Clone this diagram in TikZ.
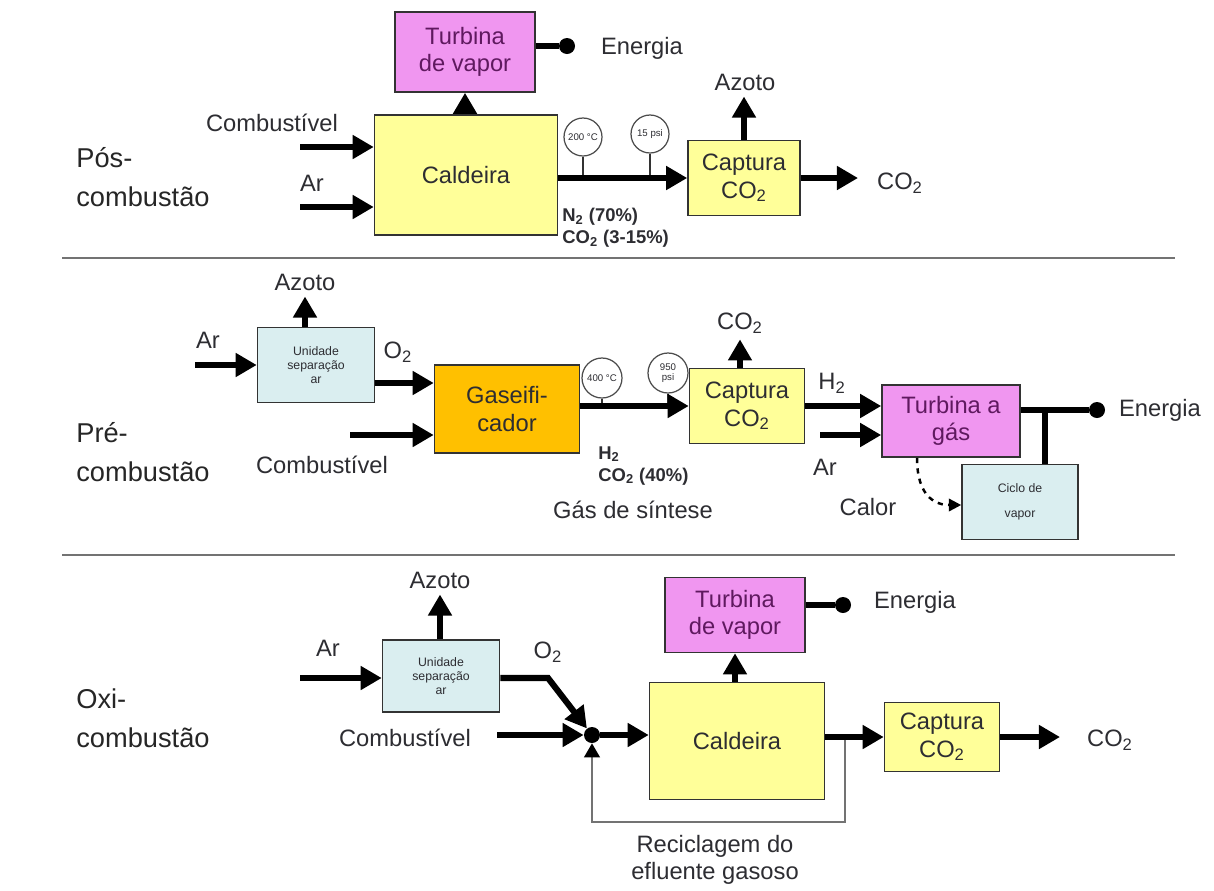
\documentclass[tikz,border=0pt]{standalone}
\usepackage{fontspec}
\setmainfont{Liberation Sans}
\usepackage{tikz}
\usetikzlibrary{arrows.meta, positioning}
\definecolor{turbpink}{RGB}{240,150,240}
\definecolor{capyellow}{RGB}{255,255,153}
\definecolor{sepblue}{RGB}{218,238,240}
\definecolor{gasorange}{RGB}{255,192,0}
\definecolor{txtgray}{RGB}{45,45,50}
\definecolor{turbtext}{RGB}{95,25,95}
\tikzset{
  box/.style={draw=black!80, line width=0.9pt, align=center, inner sep=1pt, text=txtgray,
    font=\fontsize{13.5}{15.5}\selectfont},
  smallbox/.style={box, font=\fontsize{7}{8}\selectfont},
  txt/.style={text=txtgray, font=\fontsize{13.5}{15.5}\selectfont},
  spec/.style={text=txtgray, align=left, anchor=north west, inner sep=0pt,
    font=\fontsize{10.5}{12.5}\selectfont\bfseries},
  biglbl/.style={text=black!85, align=left, anchor=west, inner sep=0pt,
    font=\fontsize{15.5}{22}\selectfont},
  gauge/.style={circle, draw=black!70, line width=0.7pt, fill=white, minimum size=0.76cm,
    inner sep=0pt, align=center, font=\fontsize{5.5}{6}\selectfont, text=txtgray},
  dot/.style={circle, fill=black, minimum size=0.32cm, inner sep=0pt},
  flow/.style={line width=3.5pt, -{Triangle[length=12pt,width=13pt]}},
  link/.style={line width=3.2pt},
  stem/.style={line width=1pt, draw=black!80},
  heat/.style={line width=1.4pt, dash pattern=on 3pt off 3pt, -{Triangle[length=7pt,width=7pt]}},
  recy/.style={line width=1.1pt, draw=black!55, -{Triangle[length=8pt,width=9pt,color=black]}},
  sepline/.style={line width=1pt, draw=black!55}
}
\begin{document}
\begin{tikzpicture}[x=0.02cm, y=-0.02cm]
  \useasboundingbox (0,0) rectangle (1214,890);
  \fill[white] (0,0) rectangle (1214,890);

  % pos-combustao
  \node[biglbl] (lblA) at (76,177) {Pós-\\combustão};
  \node[box, fill=turbpink, text=turbtext, minimum width=2.8cm, minimum height=1.6cm] (turbA) at (465,52) {Turbina\\de vapor};
  \node[box, fill=capyellow, minimum width=3.66cm, minimum height=2.4cm] (caldA) at (466,175) {Caldeira};
  \node[box, fill=capyellow, minimum width=2.24cm, minimum height=1.5cm] (captA) at (744,178) {Captura\\CO\textsubscript{2}};
  \node[dot] (dotA) at (567,46) {};
  \node[txt] (enA) at (642,48) {Energia};
  \node[txt] (combA) at (272,123) {Combustível};
  \node[txt] (arA) at (312,183) {Ar};
  \node[txt] (azA) at (745,82) {Azoto};
  \node[txt] (co2A) at (900,183) {CO\textsubscript{2}};
  \coordinate (inA1) at (300,147);
  \coordinate (inA2) at (300,207);
  \coordinate (outA) at (858,178);
  \draw[link] (turbA.east |- dotA) -- (dotA);
  \draw[flow] (turbA.south |- caldA.north) -- (turbA.south);
  \draw[flow] (inA1) -- (inA1 -| caldA.west);
  \draw[flow] (inA2) -- (inA2 -| caldA.west);
  \node[gauge] (gA1) at (583,137) {200 °C};
  \node[gauge] (gA2) at (650,134) {15 psi};
  \draw[stem] (gA1.south) -- (gA1.south |- captA.west);
  \draw[stem] (gA2.south) -- (gA2.south |- captA.west);
  \draw[flow] (captA.west -| caldA.east) -- (captA.west);
  \draw[flow] (captA.north) -- (captA.north |- azA.south);
  \draw[flow] (captA.east) -- (outA);
  \node[spec] (spA) at (562,208) {N\textsubscript{2} (70\%)\\CO\textsubscript{2} (3-15\%)};

  \draw[sepline] (62,258) -- (1175,258);

  % pre-combustao
  \node[biglbl] (lblB) at (76,452) {Pré-\\combustão};
  \node[smallbox, fill=sepblue, minimum width=2.34cm, minimum height=1.5cm] (usepB) at (316,365) {Unidade\\separação\\ar};
  \node[txt] (azB) at (305,282) {Azoto};
  \node[txt] (arB) at (208,340) {Ar};
  \node[txt] (o2B) at (398,352) {O\textsubscript{2}};
  \node[txt] (combB) at (322,465) {Combustível};
  \coordinate (inB1) at (195,365);
  \coordinate (inB2) at (350,435);
  \draw[flow] (azB |- usepB.north) -- (azB);
  \draw[flow] (inB1) -- (inB1 -| usepB.west);
  \node[box, fill=gasorange, minimum width=2.9cm, minimum height=1.76cm] (gasB) at (507,409) {Gaseifi-\\cador};
  \draw[flow] ([yshift=-0.36cm]usepB.east) -- ([yshift=-0.36cm]usepB.east -| gasB.west);
  \draw[flow] (inB2) -- (inB2 -| gasB.west);
  \node[box, fill=capyellow, minimum width=2.3cm, minimum height=1.5cm] (captB) at (747,406) {Captura\\CO\textsubscript{2}};
  \node[gauge, minimum size=0.8cm] (gB1) at (602,378) {400 °C};
  \node[gauge, minimum size=0.8cm] (gB2) at (668,373) {950\\psi};
  \draw[stem] (gB1.south) -- (gB1.south |- captB.west);
  \draw[stem] (gB2.south) -- (gB2.south |- captB.west);
  \draw[flow] (captB.west -| gasB.east) -- (captB.west);
  \node[spec] (spB) at (598,446) {H\textsubscript{2}\\CO\textsubscript{2} (40\%)};
  \node[txt] (sinB) at (633,510) {Gás de síntese};
  \node[txt] (co2B) at (740,323) {CO\textsubscript{2}};
  \draw[flow] (co2B |- captB.north) -- (co2B);
  \node[txt] (h2B) at (832,383) {H\textsubscript{2}};
  \node[box, fill=turbpink, text=turbtext, minimum width=2.76cm, minimum height=1.44cm] (turbB) at (951,421) {Turbina a\\gás};
  \coordinate (inB3) at (820,435);
  \draw[flow] (captB.east) -- (captB.east -| turbB.west);
  \draw[flow] (inB3) -- (inB3 -| turbB.west);
  \node[txt] (arB2) at (825,467) {Ar};
  \node[dot] (dotB) at (1097,410) {};
  \node[txt] (enB) at (1160,410) {Energia};
  \draw[link] (turbB.east |- dotB) -- (dotB);
  \node[smallbox, fill=sepblue, minimum width=2.32cm, minimum height=1.5cm] (cicB) at (1020,502) {Ciclo de\\[6pt]vapor};
  \coordinate (jB) at (1045,410);
  \draw[link] (jB) -- (jB |- cicB.north);
  \node[txt] (calB) at (868,507) {Calor};
  \draw[heat] ([xshift=-0.68cm]turbB.south) .. controls +(0,40) and +(-25,0) .. ([yshift=-0.06cm]cicB.west);

  \draw[sepline] (62,555) -- (1175,555);

  % oxi-combustao
  \node[biglbl] (lblC) at (76,718) {Oxi-\\combustão};
  \node[smallbox, fill=sepblue, minimum width=2.34cm, minimum height=1.44cm] (usepC) at (441,676) {Unidade\\separação\\ar};
  \node[txt] (azC) at (440,580) {Azoto};
  \node[txt] (arC) at (328,648) {Ar};
  \node[txt] (o2C) at (548,652) {O\textsubscript{2}};
  \node[txt] (combC) at (405,738) {Combustível};
  \coordinate (inC1) at (300,678);
  \coordinate (inC2) at (497,735);
  \coordinate (kC) at (548,678);
  \draw[flow] (azC |- usepC.north) -- (azC);
  \draw[flow] (inC1) -- (inC1 -| usepC.west);
  \node[dot] (mxC) at (592,735) {};
  \draw[flow] (usepC.east |- kC) -- (kC) -- (mxC);
  \draw[flow] (inC2) -- (mxC);
  \node[box, fill=capyellow, minimum width=3.5cm, minimum height=2.34cm] (caldC) at (737,741) {Caldeira};
  \draw[flow] (mxC) -- (mxC -| caldC.west);
  \node[box, fill=turbpink, text=turbtext, minimum width=2.8cm, minimum height=1.5cm] (turbC) at (735,615) {Turbina\\de vapor};
  \draw[flow] (turbC.south |- caldC.north) -- (turbC.south);
  \node[dot] (dotC) at (843,605) {};
  \node[txt] (enC) at (915,602) {Energia};
  \draw[link] (turbC.east |- dotC) -- (dotC);
  \node[box, fill=capyellow, minimum width=2.3cm, minimum height=1.38cm] (captC) at (942,737) {Captura\\CO\textsubscript{2}};
  \coordinate (rC1) at (845,737);
  \coordinate (rC2) at (845,822);
  \draw[recy] (rC1) -- (rC2) -| (mxC);
  \draw[flow] (captC.west -| caldC.east) -- (captC.west);
  \node[txt] (co2C) at (1110,740) {CO\textsubscript{2}};
  \coordinate (outC) at (1060,737);
  \draw[flow] (captC.east) -- (outC);
  \node[txt, align=center] (recC) at (715,860) {Reciclagem do\\efluente gasoso};
\end{tikzpicture}
\end{document}
